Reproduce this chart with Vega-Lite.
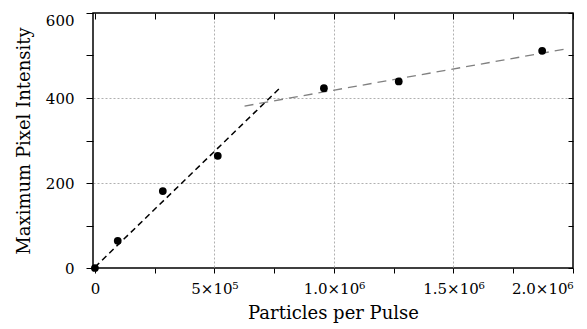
{
  "$schema": "https://vega.github.io/schema/vega-lite/v6.json",
  "width": 480,
  "height": 255,
  "autosize": {"type": "none"},
  "padding": {"left": 93, "top": 13, "right": 14, "bottom": 61},
  "config": {
    "view": {"stroke": "black", "strokeWidth": 1.5},
    "font": "DejaVu Serif",
    "axis": {
      "labelFont": "DejaVu Serif",
      "labelFontSize": 15,
      "labelColor": "black",
      "titleFont": "DejaVu Serif",
      "titleFontSize": 18,
      "titleFontWeight": "normal",
      "titleColor": "black",
      "tickColor": "black",
      "tickWidth": 1,
      "domain": false
    }
  },
  "datasets": {
    "points": [
      {"x": 0, "y": 0},
      {"x": 95500, "y": 64},
      {"x": 284000, "y": 181},
      {"x": 514000, "y": 264},
      {"x": 958000, "y": 423},
      {"x": 1271000, "y": 439},
      {"x": 1871000, "y": 511}
    ],
    "fit1": [{"x": 0, "y": 2}, {"x": 773000, "y": 423}],
    "fit2": [{"x": 626000, "y": 381}, {"x": 1966000, "y": 515}]
  },
  "layer": [
    {
      "data": {"name": "fit1"},
      "mark": {"type": "line", "color": "black", "strokeWidth": 1.5, "strokeDash": [6, 4], "clip": true},
      "encoding": {
        "x": {
          "field": "x", "type": "quantitative",
          "scale": {"domain": [-8000, 2000000], "nice": false, "zero": false},
          "axis": {
            "orient": "bottom",
            "title": "Particles per Pulse",
            "values": [0, 250000, 500000, 750000, 1000000, 1250000, 1500000, 1750000, 2000000],
            "labelExpr": "datum.value == 0 ? '0' : datum.value == 500000 ? '5×10⁵' : datum.value == 1000000 ? '1.0×10⁶' : datum.value == 1500000 ? '1.5×10⁶' : datum.value == 2000000 ? '2.0×10⁶' : ''",
            "labelAlign": {"condition": {"test": "datum.value == 2000000", "value": "right"}, "value": "center"},
            "labelFlush": false,
            "labelOverlap": false,
            "tickSize": 5,
            "labelPadding": 8,
            "titlePadding": 8,
            "grid": true,
            "gridColor": "#b0b0b0",
            "gridDash": [2, 2],
            "gridWidth": 1,
            "gridOpacity": {"condition": {"test": "datum.value == 500000 || datum.value == 1000000 || datum.value == 1500000", "value": 1}, "value": 0}
          }
        },
        "y": {
          "field": "y", "type": "quantitative",
          "scale": {"domain": [0, 600], "nice": false},
          "axis": {
            "orient": "left",
            "title": "Maximum Pixel Intensity",
            "values": [0, 100, 200, 300, 400, 500, 600],
            "labelExpr": "datum.value % 200 == 0 ? datum.label : ''",
            "labelBaseline": {"condition": {"test": "datum.value == 600", "value": "top"}, "value": "middle"},
            "labelFlush": false,
            "labelOverlap": false,
            "tickSize": 7,
            "labelPadding": 12,
            "titlePadding": 12,
            "grid": true,
            "gridColor": "#b0b0b0",
            "gridDash": [2, 2],
            "gridWidth": 1,
            "gridOpacity": {"condition": {"test": "datum.value == 200 || datum.value == 400", "value": 1}, "value": 0}
          }
        }
      }
    },
    {
      "data": {"name": "fit2"},
      "mark": {"type": "line", "color": "#808080", "strokeWidth": 1.3, "strokeDash": [9, 6], "clip": true},
      "encoding": {
        "x": {
          "field": "x", "type": "quantitative",
          "axis": {
            "orient": "top",
            "title": null,
            "values": [0, 250000, 500000, 750000, 1000000, 1250000, 1500000, 1750000, 2000000],
            "labels": false,
            "grid": false,
            "tickSize": -6
          }
        },
        "y": {
          "field": "y", "type": "quantitative",
          "axis": {
            "orient": "right",
            "title": null,
            "values": [0, 100, 200, 300, 400, 500, 600],
            "labels": false,
            "grid": false,
            "tickSize": -5
          }
        }
      }
    },
    {
      "data": {"name": "points"},
      "mark": {"type": "circle", "color": "black", "opacity": 1, "size": 60},
      "encoding": {
        "x": {"field": "x", "type": "quantitative", "axis": null},
        "y": {"field": "y", "type": "quantitative", "axis": null}
      }
    }
  ],
  "resolve": {"axis": {"x": "independent", "y": "independent"}}
}
